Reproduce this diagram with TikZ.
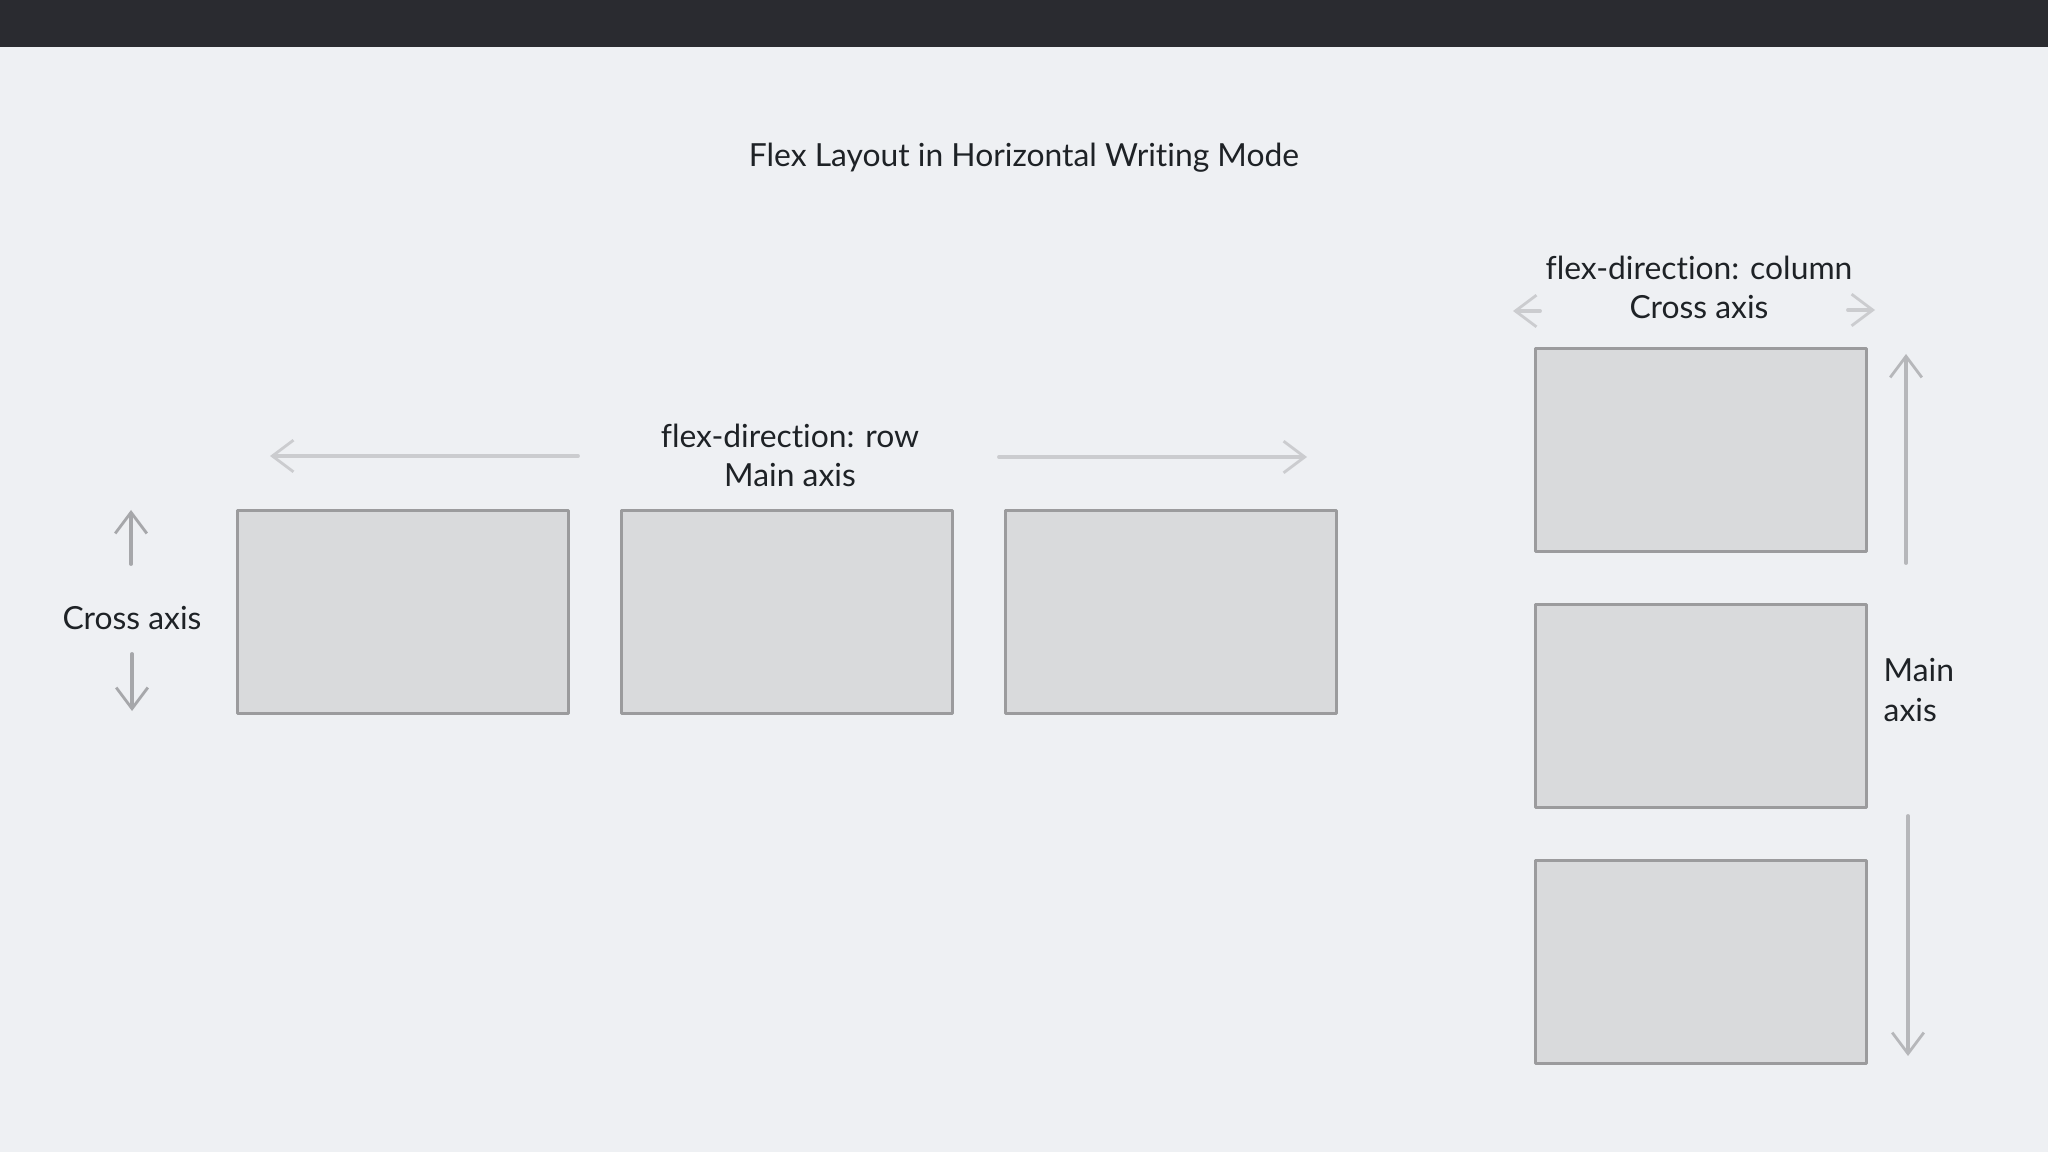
\documentclass[tikz,border=0pt]{standalone}
\usepackage{fontspec}
\setmainfont{Lato}[Ligatures=NoCommon]
\usetikzlibrary{arrows.meta}

\definecolor{bgcol}{HTML}{EEF0F3}
\definecolor{barcol}{HTML}{2A2B30}
\definecolor{boxfill}{HTML}{D9DADC}
\definecolor{boxline}{HTML}{9B9B9D}
\definecolor{txtcol}{HTML}{1E2226}
\definecolor{arrlight}{HTML}{CBCCCF}
\definecolor{arrdark}{HTML}{A6A7AA}
\definecolor{arrmid}{HTML}{B6B7BA}

\tikzset{
  flexbox/.style={draw=boxline,fill=boxfill,line width=0.85pt,inner sep=0pt,
    minimum width=3.31cm,minimum height=2.02cm},
  axislabel/.style={text=txtcol,align=center,inner sep=0pt,
    font=\fontsize{9.05}{11.1}\selectfont},
  axisarrow/.style={line width=1.1pt,line cap=round,
    -{Straight Barb[length=6pt,width=9pt,line width=0.8pt]}}
}

\begin{document}
\begin{tikzpicture}[line cap=round,line join=round,x=0.01cm,y=-0.01cm]
\useasboundingbox (0,0) rectangle (2048,1152);
\fill[bgcol] (0,0) rectangle (2048,1152);
\fill[barcol] (0,0) rectangle (2048,47);
\node[axislabel] (title) at (1024,158) {Flex Layout in Horizontal Writing Mode};
% row
\node[flexbox] (row1) at (403,612) {};
\node[flexbox] (row2) at (787,612) {};
\node[flexbox] (row3) at (1171,612) {};
\node[axislabel] (rowlabel) at (790,455) {flex-direction: row\\Main axis};
\node[axislabel] (rowcross) at (132,618) {Cross axis};
\coordinate (mainLa) at (578,456);
\coordinate (mainLb) at (270,456);
\coordinate (mainRa) at (999,457);
\coordinate (mainRb) at (1307,457);
\coordinate (crossUa) at (131,564);
\coordinate (crossUb) at (131,510);
\coordinate (crossDa) at (132,654);
\coordinate (crossDb) at (132,711);
\draw[axisarrow,arrlight] (mainLa) -- (mainLb);
\draw[axisarrow,arrlight] (mainRa) -- (mainRb);
\draw[axisarrow,arrdark] (crossUa) -- (crossUb);
\draw[axisarrow,arrdark] (crossDa) -- (crossDb);
% column
\node[flexbox] (col1) at (1701,450) {};
\node[flexbox] (col2) at (1701,706) {};
\node[flexbox] (col3) at (1701,962) {};
\node[axislabel] (collabel) at (1699,287) {flex-direction: column\\Cross axis};
\node[axislabel,align=left,anchor=west] (colmain) at (1883,690) {Main\\axis};
\coordinate (crossLa) at (1540,311);
\coordinate (crossLb) at (1513,311);
\coordinate (crossRa) at (1848,310);
\coordinate (crossRb) at (1875,310);
\coordinate (mainUa) at (1906,563);
\coordinate (mainUb) at (1906,354);
\coordinate (mainDa) at (1908,816);
\coordinate (mainDb) at (1908,1056);
\draw[axisarrow,arrlight] (crossLa) -- (crossLb);
\draw[axisarrow,arrlight] (crossRa) -- (crossRb);
\draw[axisarrow,arrmid] (mainUa) -- (mainUb);
\draw[axisarrow,arrmid] (mainDa) -- (mainDb);
\end{tikzpicture}
\end{document}
